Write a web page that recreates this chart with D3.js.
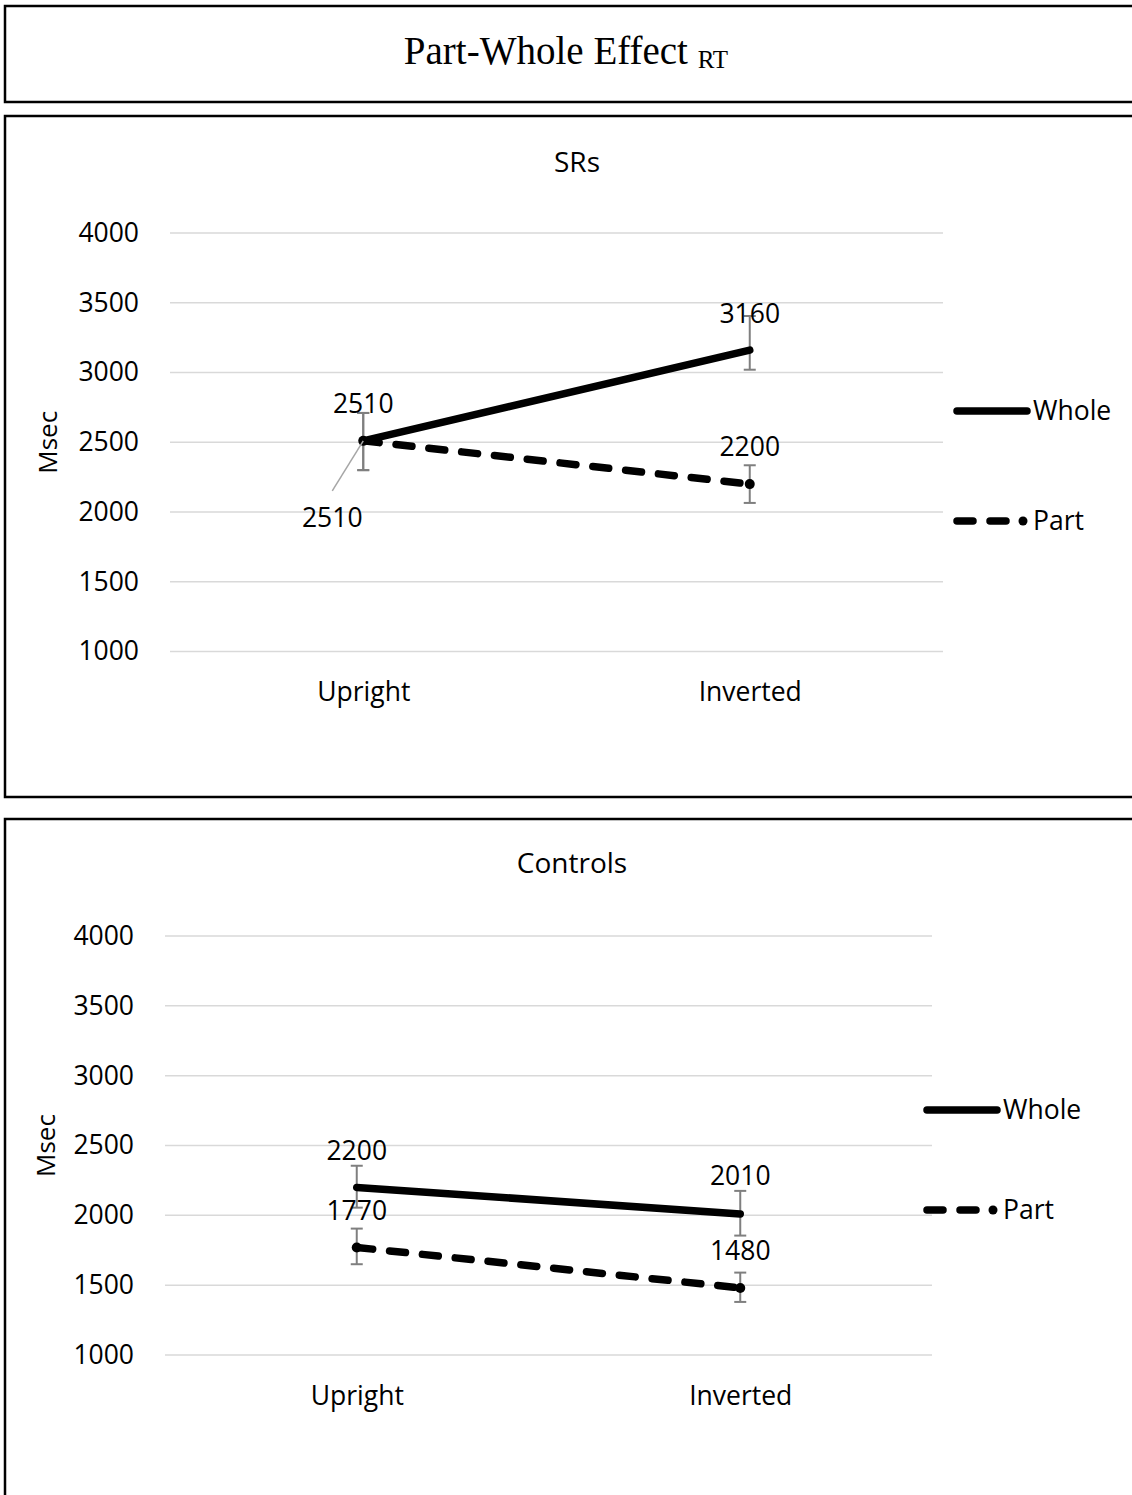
<!DOCTYPE html>
<html>
<head>
<meta charset="utf-8">
<script src="https://cdn.jsdelivr.net/npm/d3@7"></script>
<style>
  html, body { margin: 0; padding: 0; background: #fff; }
  svg { display: block; }
</style>
</head>
<body>
<svg id="chart" width="1132" height="1495"></svg>
<script>
// Conditions on the x axis
const conditions = ["Upright", "Inverted"];
const seriesNames = ["Whole", "Part"];
const yTicks = [1000, 1500, 2000, 2500, 3000, 3500, 4000];

// Mean reaction times (ms)
const srsWhole = [2510, 3160];
const srsPart = [2510, 2200];
const controlsWhole = [2200, 2010];
const controlsPart = [1770, 1480];

// Error bar limits [low, high] per condition
const srsWholeErr = [[2300, 2710], [3020, 3405]];
const srsPartErr = [[2300, 2710], [2065, 2335]];
const controlsWholeErr = [[2055, 2355], [1855, 2175]];
const controlsPartErr = [[1650, 1905], [1380, 1590]];

const svg = d3.select("#chart");
const sans = "'Open Sans', 'DejaVu Sans', sans-serif";

// Outer boxes
function box(x, y, w, h) {
  svg.append("rect").attr("x", x).attr("y", y).attr("width", w).attr("height", h)
    .attr("fill", "none").attr("stroke", "#000").attr("stroke-width", 2.5);
}
box(5, 6, 1140, 96);
box(5, 116, 1140, 681);
box(5, 819, 1140, 700);

// Heading
const heading = svg.append("text").attr("x", 566).attr("y", 64)
  .attr("text-anchor", "middle")
  .attr("font-family", "'Liberation Serif', 'Times New Roman', serif")
  .attr("font-size", 39).attr("fill", "#000");
heading.append("tspan").text("Part-Whole Effect ");
heading.append("tspan").attr("font-size", 25).attr("dy", 4).text("RT");

function panel(cfg) {
  const g = svg.append("g");
  const x = d3.scalePoint().domain(conditions).range([cfg.x0, cfg.x1]).padding(0.5);
  const y = d3.scaleLinear().domain([1000, 4000]).range([cfg.yBottom, cfg.yTop]);

  // Gridlines
  g.append("g").selectAll("line").data(yTicks).join("line")
    .attr("x1", cfg.x0).attr("x2", cfg.x1)
    .attr("y1", d => y(d)).attr("y2", d => y(d))
    .attr("stroke", "#d9d9d9").attr("stroke-width", 1.5);

  // Y axis labels
  const yAxis = d3.axisLeft(y).tickValues(yTicks).tickSize(0).tickPadding(0).tickFormat(d3.format("d"));
  const ya = g.append("g").attr("transform", `translate(${cfg.x0 - 31},0)`).call(yAxis);
  ya.select(".domain").remove();
  ya.selectAll("text").attr("font-family", sans).attr("font-size", 26.5).attr("fill", "#000");

  // X axis labels
  const xAxis = d3.axisBottom(x).tickSize(0).tickPadding(0);
  const xa = g.append("g").attr("transform", `translate(0,${cfg.yBottom + 31})`).call(xAxis);
  xa.select(".domain").remove();
  xa.selectAll("text").attr("font-family", sans).attr("font-size", 26.5).attr("fill", "#000");

  // Title
  g.append("text").attr("x", cfg.titleX).attr("y", cfg.titleY).attr("text-anchor", "middle")
    .attr("font-family", sans).attr("font-size", 28).attr("fill", "#000").text(cfg.title);

  // Y axis title
  g.append("text").attr("transform", `translate(${cfg.msecX},${y(2500)}) rotate(-90)`)
    .attr("text-anchor", "middle").attr("font-family", sans).attr("font-size", 26)
    .attr("fill", "#000").text("Msec");

  // Error bars
  const errs = [cfg.wholeErr, cfg.partErr];
  errs.forEach(err => {
    err.forEach((e, i) => {
      const cx = x(conditions[i]);
      const eg = g.append("g").attr("stroke", "#7f7f7f").attr("stroke-width", 2);
      eg.append("line").attr("x1", cx).attr("x2", cx).attr("y1", y(e[0])).attr("y2", y(e[1]));
      eg.append("line").attr("x1", cx - 6).attr("x2", cx + 6).attr("y1", y(e[0])).attr("y2", y(e[0]));
      eg.append("line").attr("x1", cx - 6).attr("x2", cx + 6).attr("y1", y(e[1])).attr("y2", y(e[1]));
    });
  });

  const line = d3.line().x((d, i) => x(conditions[i])).y(d => y(d));

  // Part (dashed)
  g.append("path").datum(cfg.part).attr("d", line).attr("fill", "none")
    .attr("stroke", "#000").attr("stroke-width", 7.5).attr("stroke-linecap", "round")
    .attr("stroke-dasharray", "16 17");
  g.selectAll(".pdot").data(cfg.part).join("circle")
    .attr("cx", (d, i) => x(conditions[i])).attr("cy", d => y(d)).attr("r", 5).attr("fill", "#000");

  // Whole (solid)
  g.append("path").datum(cfg.whole).attr("d", line).attr("fill", "none")
    .attr("stroke", "#000").attr("stroke-width", 7.5).attr("stroke-linecap", "round");

  // Value labels
  cfg.labels.forEach(l => {
    const v = l.series === "Whole" ? cfg.whole[l.i] : cfg.part[l.i];
    const px = x(conditions[l.i]), py = y(v);
    if (l.leader) {
      g.append("line").attr("x1", px).attr("y1", py).attr("x2", px + l.leader[0]).attr("y2", py + l.leader[1])
        .attr("stroke", "#a6a6a6").attr("stroke-width", 1.5);
    }
    g.append("text").attr("x", px + l.dx).attr("y", py + l.dy).attr("text-anchor", "middle")
      .attr("font-family", sans).attr("font-size", 26.5).attr("fill", "#000").text(d3.format("d")(v));
  });

  // Legend
  const lg = g.append("g");
  lg.append("line").attr("x1", cfg.legX).attr("x2", cfg.legX + 70)
    .attr("y1", cfg.legWholeY).attr("y2", cfg.legWholeY)
    .attr("stroke", "#000").attr("stroke-width", 7.5).attr("stroke-linecap", "round");
  lg.append("line").attr("x1", cfg.legX).attr("x2", cfg.legX + 50)
    .attr("y1", cfg.legPartY).attr("y2", cfg.legPartY)
    .attr("stroke", "#000").attr("stroke-width", 7.5).attr("stroke-linecap", "round")
    .attr("stroke-dasharray", "16 17");
  lg.append("circle").attr("cx", cfg.legX + 66).attr("cy", cfg.legPartY).attr("r", 4.5).attr("fill", "#000");
  lg.append("text").attr("x", cfg.legX + 76).attr("y", cfg.legWholeY).attr("dy", "0.35em")
    .attr("font-family", sans).attr("font-size", 26.5).attr("fill", "#000").text(seriesNames[0]);
  lg.append("text").attr("x", cfg.legX + 76).attr("y", cfg.legPartY).attr("dy", "0.35em")
    .attr("font-family", sans).attr("font-size", 26.5).attr("fill", "#000").text(seriesNames[1]);
}

panel({
  title: "SRs", titleX: 577, titleY: 172,
  x0: 170, x1: 943, yTop: 233, yBottom: 651.5, msecX: 57,
  whole: srsWhole, part: srsPart, wholeErr: srsWholeErr, partErr: srsPartErr,
  labels: [
    { series: "Whole", i: 0, dx: 0, dy: -28 },
    { series: "Whole", i: 1, dx: 0, dy: -27 },
    { series: "Part", i: 0, dx: -31, dy: 86, leader: [-31, 50] },
    { series: "Part", i: 1, dx: 0, dy: -28 }
  ],
  legX: 957, legWholeY: 411, legPartY: 521
});

panel({
  title: "Controls", titleX: 572, titleY: 873,
  x0: 165, x1: 932, yTop: 936, yBottom: 1355, msecX: 55,
  whole: controlsWhole, part: controlsPart, wholeErr: controlsWholeErr, partErr: controlsPartErr,
  labels: [
    { series: "Whole", i: 0, dx: 0, dy: -27 },
    { series: "Whole", i: 1, dx: 0, dy: -29 },
    { series: "Part", i: 0, dx: 0, dy: -27 },
    { series: "Part", i: 1, dx: 0, dy: -28 }
  ],
  legX: 927, legWholeY: 1110, legPartY: 1210
});
</script>
</body>
</html>
